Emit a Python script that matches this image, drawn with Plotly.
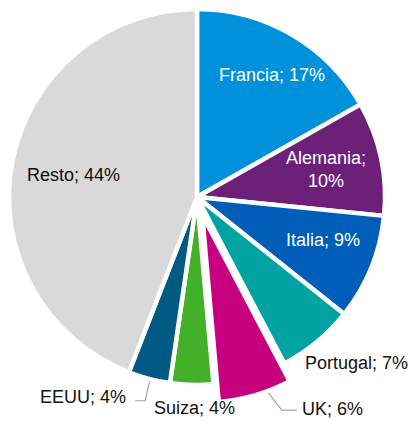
import math
import plotly.graph_objects as go

# ---- data ----
categories = ["Francia", "Alemania", "Italia", "Portugal", "UK", "Suiza", "EEUU", "Resto"]
values = [16.8, 9.8, 9.1, 6.6, 6.3, 3.7, 3.6, 44.1]
colors = ["#0091DA", "#6D2077", "#005EB8", "#00A3A1", "#C6007E", "#43B02A", "#005A84", "#D9D9D9"]

# ---- geometry / style ----
W, H = 410, 421
CX, CY, R = 197, 197, 188
PULL_PX = 18.5          # exploded slice offset
EXPLODED = "UK"
BORDER = 4.5
FONT = "Liberation Sans, Arial, sans-serif"
FS = 18

total = sum(values)
mids = []
cum = 0.0
for v in values:
    mids.append((cum + v / 2) / total * 360.0)
    cum += v

k = categories.index(EXPLODED)
th = math.radians(mids[k])
BX = CX + PULL_PX * math.sin(th)
BY = CY - PULL_PX * math.cos(th)


def dom(cx, cy, r):
    return dict(x=[(cx - r) / W, (cx + r) / W], y=[1 - (cy + r) / H, 1 - (cy - r) / H])


def px(x, y):
    return x / W, 1 - y / H


def arc_point(i, r, cx=CX, cy=CY, dang=0.0):
    a = math.radians(mids[i] + dang)
    return cx + r * math.sin(a), cy - r * math.cos(a)


transparent = "rgba(0,0,0,0)"
colA = [transparent if c == EXPLODED else col for c, col in zip(categories, colors)]
lwA = [0 if c == EXPLODED else BORDER for c in categories]
colB = [col if c == EXPLODED else transparent for c, col in zip(categories, colors)]
lwB = [BORDER if c == EXPLODED else 0 for c in categories]

fig = go.Figure()
fig.add_trace(go.Pie(
    labels=categories, values=values, sort=False, direction="clockwise", rotation=0,
    marker=dict(colors=colA, line=dict(color="white", width=lwA)),
    textinfo="none", hoverinfo="skip", showlegend=False, domain=dom(CX, CY, R),
))
fig.add_trace(go.Pie(
    labels=categories, values=values, sort=False, direction="clockwise", rotation=0,
    marker=dict(colors=colB, line=dict(color="white", width=lwB)),
    textinfo="none", hoverinfo="skip", showlegend=False, domain=dom(BX, BY, R),
))


def label_text(i):
    pct = round(values[i] / total * 100)
    name = categories[i]
    if name == "Alemania":
        return f"{name};<br>{pct}%"
    return f"{name}; {pct}%"


annotations = []
shapes = []

# inside labels: radius factor and small nudges (px)
inside = {
    "Francia": (0.76, 3, 1, "white"),
    "Alemania": (0.70, 0, 0, "white"),
    "Italia": (0.71, 2, -7, "white"),
    "Resto": (0.67, 0, 1, "#0d0d0d"),
}
for name, (rf, dx, dy, col) in inside.items():
    i = categories.index(name)
    x, y = arc_point(i, rf * R)
    xp, yp = px(x + dx, y + dy)
    annotations.append(dict(x=xp, y=yp, xref="paper", yref="paper", text=label_text(i),
                            showarrow=False, xanchor="center", yanchor="middle",
                            font=dict(family=FONT, size=FS, color=col)))

# outside labels: offsets from slice arc midpoint
outside = {
    "Portugal": (-15, 20, "left"),
    "UK": (44, 12, "left"),
    "Suiza": (3, 21, "center"),
    "EEUU": (-20.5, 16, "right"),
}
arcs = {}
for name, (dx, dy, anchor) in outside.items():
    i = categories.index(name)
    if name == EXPLODED:
        ax, ay = arc_point(i, R + 2, BX, BY)
    else:
        ax, ay = arc_point(i, R + 2)
    arcs[name] = (ax, ay)
    xa, ya = ax + dx, ay + dy
    xp, yp = px(xa, ya)
    annotations.append(dict(x=xp, y=yp, xref="paper", yref="paper", text=label_text(i),
                            showarrow=False, xanchor=anchor, yanchor="middle",
                            font=dict(family=FONT, size=FS, color="#111111")))
    # leader lines
    if name == "UK":
        sx, sy = arc_point(i, R + 2, BX, BY, dang=-4)
        pts = [(xa - 3, ya + 1), (xa - 18, ya + 1), (sx, sy)]
    elif name == "EEUU":
        pts = [(xa + 7, ya + 4), (xa + 17, ya + 4), (ax + 1, ay + 1)]
    else:
        pts = None
    if pts:
        path = "M " + " L ".join(f"{px(x, y)[0]:.5f} {px(x, y)[1]:.5f}" for x, y in pts)
        shapes.append(dict(type="path", path=path, xref="paper", yref="paper",
                           line=dict(color="#A6A6A6", width=1.2)))

fig.update_layout(
    width=W, height=H, margin=dict(l=0, r=0, t=0, b=0),
    paper_bgcolor="white", plot_bgcolor="white",
    annotations=annotations, shapes=shapes,
)

fig.write_html("out.html")
